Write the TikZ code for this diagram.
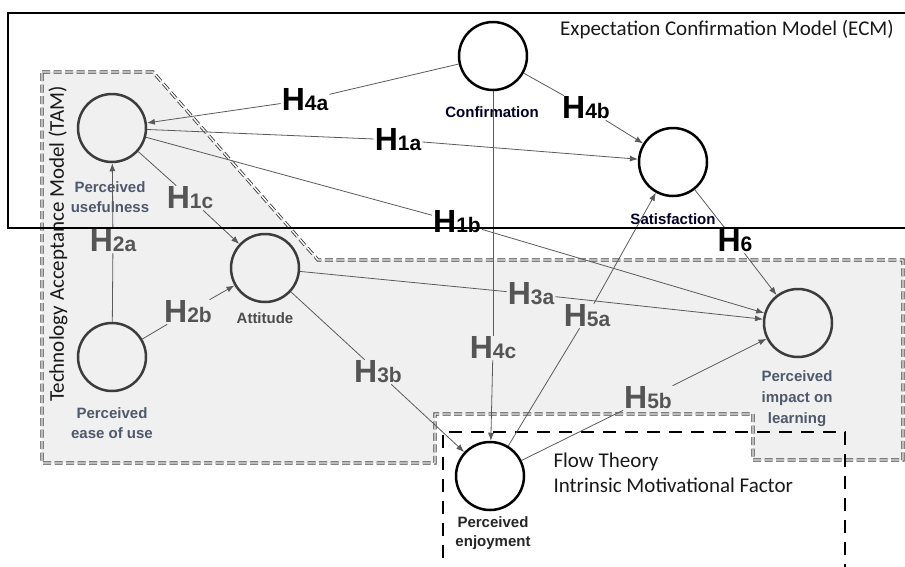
\documentclass[tikz,border=0pt]{standalone}
\usepackage{fontspec}
\setmainfont{Liberation Sans}
\newfontfamily\calib{Carlito}
\usetikzlibrary{arrows.meta}
\definecolor{regfill}{HTML}{F0F0F0}
\definecolor{regline}{HTML}{404040}
\definecolor{slate}{HTML}{4E596B}
\definecolor{edgegray}{HTML}{5A5A5A}
\definecolor{hgray}{HTML}{555555}
\definecolor{circgray}{HTML}{3C3C3C}
\newcommand\hyplab[1]{{\fontsize{32}{32}\selectfont H}{\fontsize{21}{21}\selectfont #1}}
\begin{document}
\begin{tikzpicture}[x=1pt,y=-1pt,
  construct/.style={circle, draw=#1, line width=2.5pt, minimum size=68pt, inner sep=0pt},
  construct/.default=circgray,
  clab/.style={font=\bfseries\fontsize{15}{19.5}\selectfont, align=center, text=slate, inner sep=0pt},
  hyp/.style={inner sep=1pt, text=hgray, font=\bfseries},
  hypk/.style={hyp, text=black},
  edge/.style={draw=edgegray, line width=0.8pt},
  arr/.style={edge, -{Latex[length=8pt,width=6pt]}},
  region/.style={fill=regfill, draw=regline, double=white, double distance=1.4pt, line width=0.9pt, dash pattern=on 8pt off 3.5pt},
  framebox/.style={draw=black, line width=2.8pt},
  flowbox/.style={draw=black, line width=2.5pt, dash pattern=on 13pt off 9pt},
  boxtext/.style={font=\calib\fontsize{21}{25}\selectfont, text=black!90}
]
\useasboundingbox (0,0) rectangle (905,566);

% TAM region
\path[region] (42,72) -- (153,72) -- (318,260) -- (903,260) -- (903,460) -- (753,460)
  -- (753,414) -- (435,414) -- (435,463) -- (42,463) -- cycle;
\node[boxtext, rotate=90] (tamlab) at (58,244) {Technology Acceptance Model (TAM)};

% Flow theory box
\draw[flowbox] (443,580) -- (443,432) -- (845,432) -- (845,580);
\node[boxtext, anchor=west, align=left] (flowlab) at (550,473) {Flow Theory\\Intrinsic Motivational Factor};

% ECM label
\node[boxtext] (ecmlab) at (727,30) {Expectation Confirmation Model (ECM)};

% constructs
\node[construct] (pu) at (112,128) {};
\node[construct] (att) at (265,268) {};
\node[construct] (peou) at (112,357) {};
\node[construct] (pil) at (798,323) {};
\node[construct=black] (pe) at (490,476) {};
\node[construct=black] (conf) at (493,56) {};
\node[construct=black] (sat) at (673,162) {};

% construct labels
\node[clab] (pulab) at (110,197) {Perceived\\usefulness};
\node[clab, text=black!70] (attlab) at (265,318) {Attitude};
\node[clab] (peoulab) at (112,423) {Perceived\\ease of use};
\node[clab, font=\bfseries\fontsize{15}{21}\selectfont] (pillab) at (797,399) {Perceived\\impact on\\learning};
\node[clab, text=black!85] (pelab) at (493,533) {Perceived\\enjoyment};
\node[clab, text=black!85!blue] (conflab) at (492,112) {Confirmation};
\node[clab, text=black!85!blue] (satlab) at (673,219) {Satisfaction};

% hypothesis labels
\node[hypk] (h4a) at (305,100) {\hyplab{4a}};
\node[hypk] (h4b) at (586,108) {\hyplab{4b}};
\node[hypk] (h1a) at (398,140) {\hyplab{1a}};
\node[hypk] (h1b) at (457,222) {\hyplab{1b}};
\node[hypk] (h6) at (735,241) {\hyplab{6}};
\node[hyp] (h1c) at (190,198) {\hyplab{1c}};
\node[hyp] (h2a) at (113,241) {\hyplab{2a}};
\node[hyp] (h2b) at (188,312) {\hyplab{2b}};
\node[hyp] (h3a) at (531,294) {\hyplab{3a}};
\node[hyp] (h5a) at (587,316) {\hyplab{5a}};
\node[hyp] (h4c) at (493,348) {\hyplab{4c}};
\node[hyp] (h3b) at (378,372) {\hyplab{3b}};
\node[hyp] (h5b) at (648,398) {\hyplab{5b}};

% connectors
\draw[edge] (conf) -- (h4a); \draw[arr] (h4a) -- (pu);
\draw[edge] (conf) -- (h4b); \draw[arr] (h4b) -- (sat);
\draw[edge] (pu) -- (h1a); \draw[arr] (h1a) -- (sat);
\draw[edge] (pu) -- (h1b); \draw[arr] (h1b) -- (pil);
\draw[edge] (pu) -- (h1c); \draw[arr] (h1c) -- (att);
\draw[edge] (peou) -- (h2a); \draw[arr] (h2a) -- (pu);
\draw[edge] (peou) -- (h2b); \draw[arr] (h2b) -- (att);
\draw[edge] (att) -- (h3a); \draw[arr] (h3a) -- (pil);
\draw[edge] (att) -- (h3b); \draw[arr] (h3b) -- (pe);
\draw[edge] (conf) -- (h4c); \draw[arr] (h4c) -- (pe);
\draw[edge] (pe) -- (h5a); \draw[arr] (h5a) -- (sat);
\draw[edge] (pe) -- (h5b); \draw[arr] (h5b) -- (pil);
\draw[edge] (sat) -- (h6); \draw[arr] (h6) -- (pil);

% ECM frame
\draw[framebox] (906,13) -- (8,13) -- (8,228) -- (906,228);
\end{tikzpicture}
\end{document}
